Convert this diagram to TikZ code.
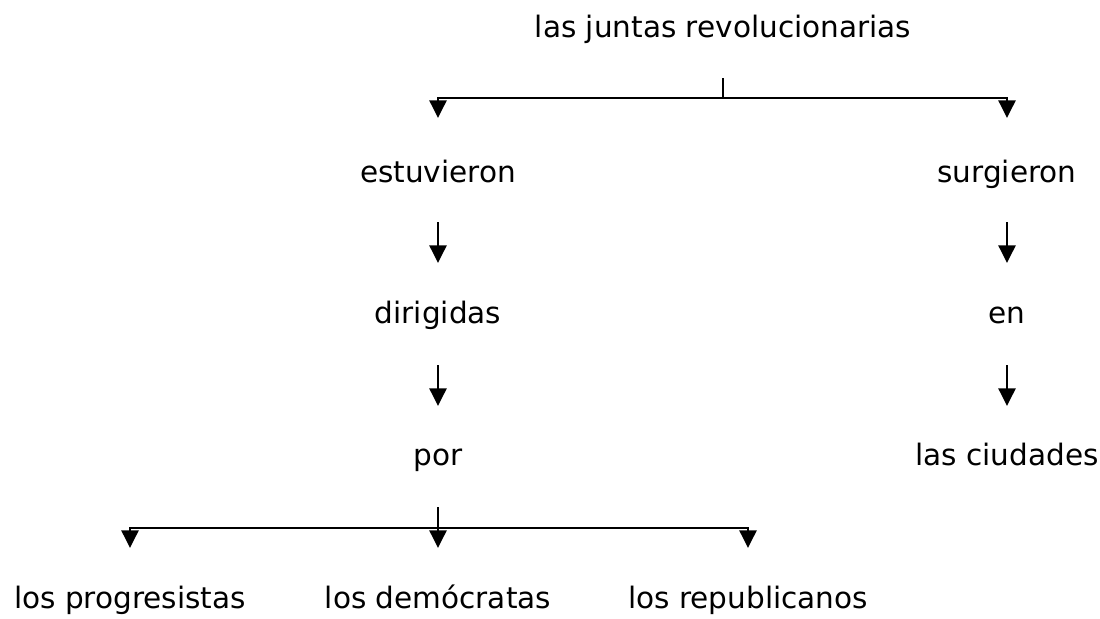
\documentclass[tikz,border=0pt]{standalone}
\usepackage{fontspec}
\setmainfont{DejaVu Sans}
\usetikzlibrary{arrows.meta}

\begin{document}
\begin{tikzpicture}[x=0.02cm,y=-0.02cm,
  lbl/.style={anchor=base,inner sep=0pt,font=\fontsize{16.8}{20}\selectfont},
  link/.style={line width=1.5pt},
  arr/.style={link,-{Triangle[width=9.6pt,length=10pt]}}]
\useasboundingbox (0,0) rectangle (1100,619);
% Words
\node[lbl] (juntas) at (723,37) {las juntas revolucionarias};
\node[lbl] (estuvieron) at (438,182) {estuvieron};
\node[lbl] (surgieron) at (1007,182) {surgieron};
\node[lbl] (dirigidas) at (438,323) {dirigidas};
\node[lbl] (en) at (1007,323) {en};
\node[lbl] (por) at (438,465) {por};
\node[lbl] (ciudades) at (1007,465) {las ciudades};
\node[lbl] (progresistas) at (130,608) {los progresistas};
\node[lbl] (democratas) at (438,608) {los demócratas};
\node[lbl] (republicanos) at (748,608) {los republicanos};
% Top fork
\coordinate (juntasout) at (723,78);
\coordinate (topfork) at (723,98);
\coordinate (estuvieronin) at (438,118);
\coordinate (surgieronin) at (1007,118);
\draw[link] (juntasout) -- (topfork);
\draw[arr] (topfork) -| (estuvieronin);
\draw[arr] (topfork) -| (surgieronin);
% Chains
\draw[arr] (estuvieron.base) ++(0,40) -- ++(0,41);
\draw[arr] (dirigidas.base) ++(0,42) -- ++(0,41);
\draw[arr] (surgieron.base) ++(0,40) -- ++(0,41);
\draw[arr] (en.base) ++(0,42) -- ++(0,41);
% Bottom fork
\coordinate (porout) at (438,507);
\coordinate (porfork) at (438,528);
\coordinate (progresistasin) at (130,548);
\coordinate (democratasin) at (438,548);
\coordinate (republicanosin) at (748,548);
\draw[arr] (porout) -- (democratasin);
\draw[arr] (porfork) -| (progresistasin);
\draw[arr] (porfork) -| (republicanosin);
\end{tikzpicture}
\end{document}
